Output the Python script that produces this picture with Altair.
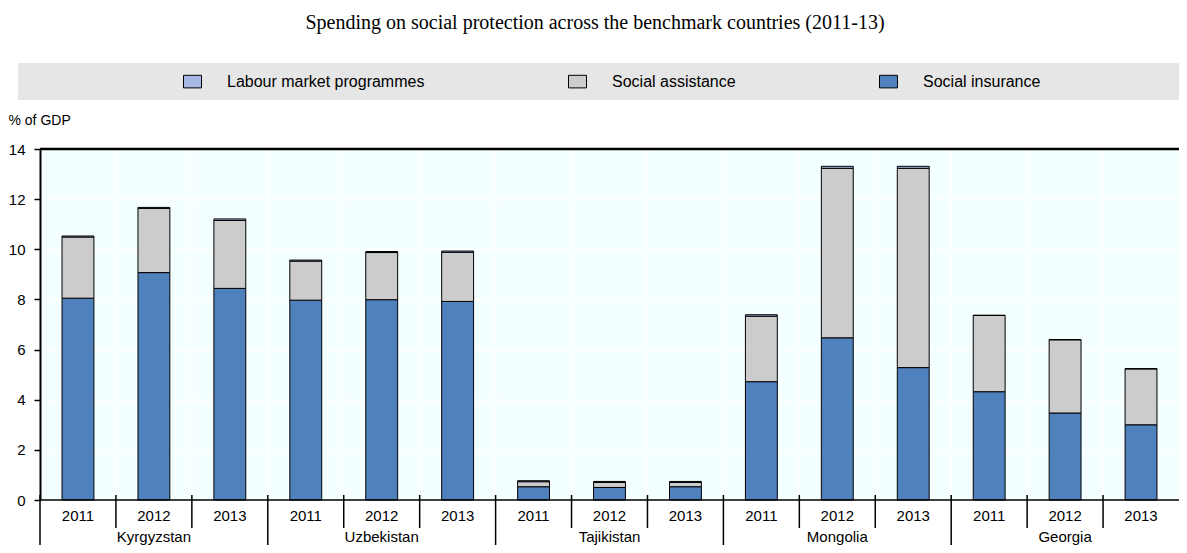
import altair as alt
import pandas as pd

countries = ["Kyrgyzstan", "Uzbekistan", "Tajikistan", "Mongolia", "Georgia"]
years = ["2011", "2012", "2013"]
components = ["Labour market programmes", "Social assistance", "Social insurance"]
colors = ["#A7B9E3", "#CCCCCC", "#4F81BD"]

# % of GDP, ordered country by country, 2011-2013
social_insurance = [8.05, 9.07, 8.44, 7.97, 7.99, 7.92, 0.53, 0.50, 0.53,
                    4.72, 6.47, 5.28, 4.32, 3.47, 3.00]
social_assistance = [2.44, 2.56, 2.71, 1.56, 1.88, 1.96, 0.20, 0.20, 0.17,
                     2.61, 6.76, 7.95, 3.04, 2.92, 2.23]
labour_market = [0.04, 0.04, 0.06, 0.04, 0.04, 0.05, 0.04, 0.04, 0.04,
                 0.06, 0.08, 0.08, 0.01, 0.01, 0.01]
y_ticks = [0, 2, 4, 6, 8, 10, 12, 14]
title_text = "Spending on social protection across the benchmark countries (2011-13)"
y_title = "% of GDP"

W, H = 1139, 351
FONT = "Liberation Sans"

keys = [f"{c} {yr}" for c in countries for yr in years]
rows = []
i = 0
for c in countries:
    for yr in years:
        k = f"{c} {yr}"
        for comp, vals, o in [("Social insurance", social_insurance, 0),
                              ("Social assistance", social_assistance, 1),
                              ("Labour market programmes", labour_market, 2)]:
            rows.append({"key": k, "country": c, "year": yr, "component": comp,
                         "value": vals[i], "stack_order": o})
        i += 1
df = pd.DataFrame(rows)
df_keys = pd.DataFrame({"key": keys, "year": [k.split(" ")[1] for k in keys]})
df_ctry = pd.DataFrame({"key": [f"{c} 2012" for c in countries], "country": countries})

band = alt.Scale(domain=keys, paddingInner=0.58, paddingOuter=0.29)
qx = alt.Scale(domain=[0, len(keys)], nice=False, zero=True)

n = len(keys)
grid_pos = pd.DataFrame({"pos": list(range(1, n))})
year_pos = pd.DataFrame({"pos": [p for p in range(1, n) if p % 3 != 0]})
ctry_pos = pd.DataFrame({"pos": [p for p in range(0, n) if p % 3 == 0]})
one = pd.DataFrame({"t": [title_text]})

vgrid = alt.Chart(grid_pos).mark_rule(color="white", strokeWidth=1.5).encode(
    x=alt.X("pos:Q", scale=qx, axis=None), y=alt.value(0), y2=alt.value(H))

bars = alt.Chart(df).mark_bar(stroke="black", strokeWidth=1).encode(
    x=alt.X("key:N", sort=keys, scale=band, axis=None),
    y=alt.Y("value:Q", stack="zero",
            scale=alt.Scale(domain=[0, 14], nice=False),
            axis=alt.Axis(values=y_ticks, title=y_title, titleAngle=0,
                          titleAlign="left", titleBaseline="middle",
                          titleX=-32, titleY=-29, titleFont=FONT,
                          titleFontSize=14, titleFontWeight="normal",
                          titleColor="black", labelFont=FONT, labelFontSize=15,
                          labelColor="black", labelPadding=9, tickColor="black",
                          tickSize=6, tickWidth=1.5, domainColor="black",
                          domainWidth=2, gridColor="white", gridWidth=1.5)),
    color=alt.Color("component:N",
                    scale=alt.Scale(domain=components, range=colors),
                    legend=alt.Legend(orient="none", legendX=143, legendY=-77,
                                      direction="horizontal", columns=3,
                                      columnPadding=141, title=None,
                                      symbolType="M-1,-0.7H1V0.7H-1Z",
                                      symbolSize=324, symbolStrokeColor="black",
                                      symbolStrokeWidth=1, symbolOpacity=1,
                                      labelFont=FONT, labelFontSize=16,
                                      labelColor="black", labelOffset=25,
                                      labelLimit=0, padding=0)),
    order=alt.Order("stack_order:Q"),
)

year_sep = alt.Chart(year_pos).mark_rule(color="black", strokeWidth=1.5).encode(
    x=alt.X("pos:Q", scale=qx, axis=None), y=alt.value(H - 5), y2=alt.value(H + 28))
ctry_sep = alt.Chart(ctry_pos).mark_rule(color="black", strokeWidth=1.5).encode(
    x=alt.X("pos:Q", scale=qx, axis=None), y=alt.value(H - 5), y2=alt.value(H + 60))

bottom_line = alt.Chart(one).mark_rule(color="black", strokeWidth=1.5).encode(
    x=alt.value(0), x2=alt.value(W), y=alt.value(H))
top_line = alt.Chart(one).mark_rule(color="black", strokeWidth=2.5).encode(
    x=alt.value(0), x2=alt.value(W), y=alt.value(0))

year_txt = alt.Chart(df_keys).mark_text(font=FONT, fontSize=15, color="black",
                                        baseline="middle").encode(
    x=alt.X("key:N", sort=keys, scale=band, axis=None),
    y=alt.value(H + 16), text="year:N")
ctry_txt = alt.Chart(df_ctry).mark_text(font=FONT, fontSize=15, color="black",
                                        baseline="middle").encode(
    x=alt.X("key:N", sort=keys, scale=band, axis=None),
    y=alt.value(H + 37), text="country:N")

legend_band = alt.Chart(one).mark_rect(color="#E6E6E6").encode(
    x=alt.value(-22), x2=alt.value(W), y=alt.value(-86), y2=alt.value(-49))

title = alt.Chart(one).mark_text(font="Liberation Serif", fontSize=20,
                                 color="black", baseline="middle").encode(
    x=alt.value(555), y=alt.value(-126), text="t:N")

chart = alt.layer(
    legend_band, title, vgrid, bars, bottom_line, top_line,
    year_sep, ctry_sep, year_txt, ctry_txt,
).resolve_scale(x="independent").properties(
    width=W, height=H,
    autosize=alt.AutoSizeParams(type="none"),
    padding={"left": 32, "top": 141, "right": 0, "bottom": 45},
).configure_view(fill="#F4FFFF", strokeWidth=0)

chart.save("out.html", embed_options={"renderer": "svg", "actions": False})
